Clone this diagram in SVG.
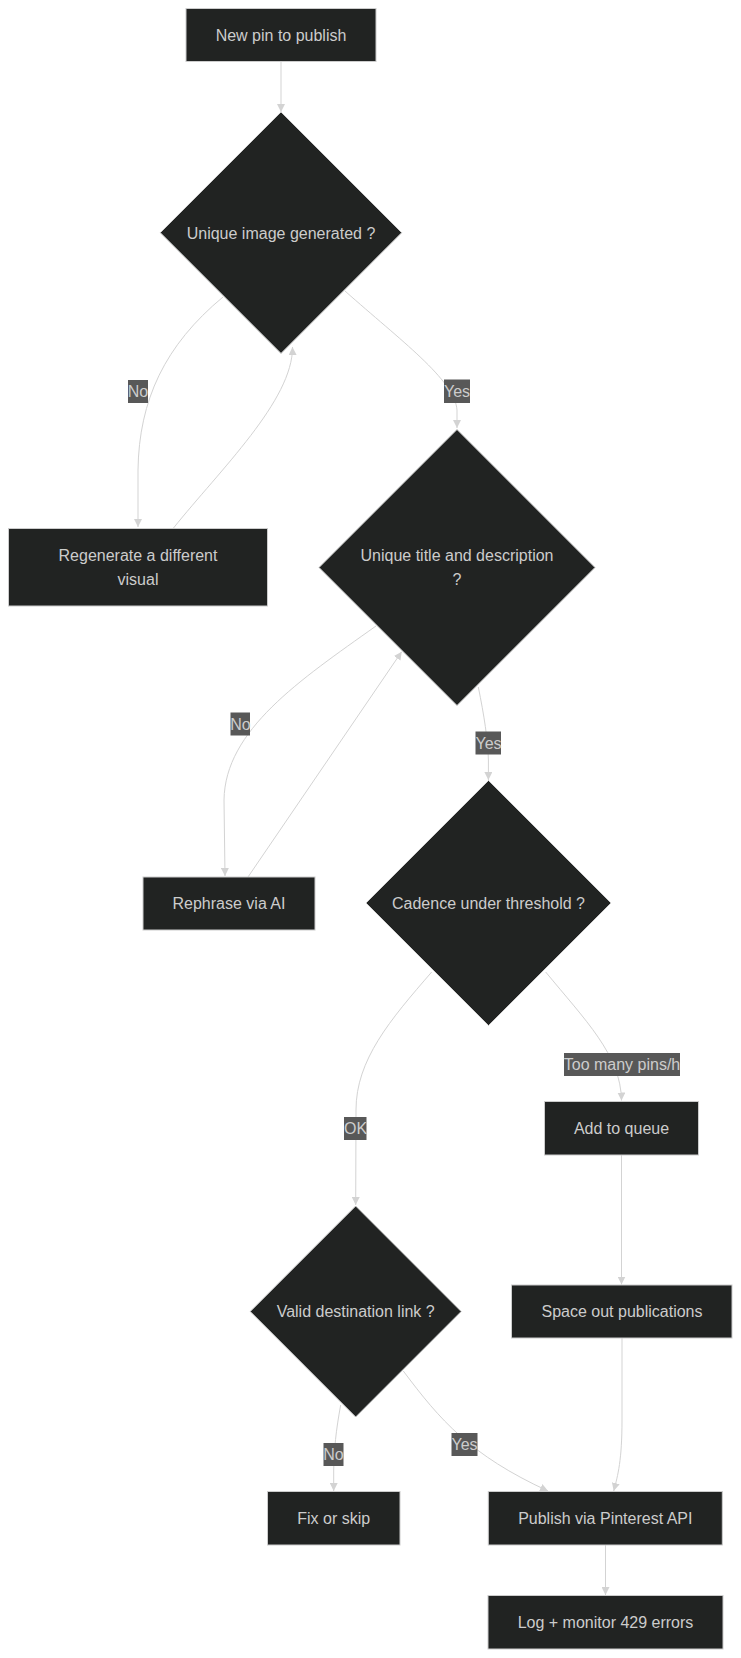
<svg xmlns="http://www.w3.org/2000/svg" width="741" height="1658" viewBox="0 0 741 1658">
<defs>
<style>
.node rect,.node polygon{fill:#212322;stroke:#cccccc;stroke-width:1}
.node text{font-family:"Liberation Sans",Arial,sans-serif;font-size:16px;fill:#cccccc;text-anchor:middle}
.edge{fill:none;stroke:#d3d3d3;stroke-width:1;marker-end:url(#arrow)}
.lbl rect{fill:#585858;stroke:none}
.lbl text{font-family:"Liberation Sans",Arial,sans-serif;font-size:16px;fill:#cccccc;text-anchor:middle}
</style>
<marker id="arrow" viewBox="0 0 10 10" refX="10" refY="5" markerUnits="userSpaceOnUse" markerWidth="8" markerHeight="8" orient="auto">
<path d="M0,0 L10,5 L0,10 z" fill="#d3d3d3"/>
</marker>
</defs>
<rect width="741" height="1658" fill="#ffffff"/>
<g id="connectors">
<path class="edge" d="M281,62 L281,112"/>
<path class="edge" d="M223,297 C165,345 139,400 138,470 L138,527"/>
<path class="edge" d="M173.5,528 C220,470 293,400 292.5,347"/>
<path class="edge" d="M345,291 C400,340 455,380 457,410 L457,428"/>
<path class="edge" d="M376,626 C300,680 225,730 224,800 L225,876"/>
<path class="edge" d="M248,877 L401.7,651.7"/>
<path class="edge" d="M478.3,687 C484,715 488,740 488.4,760 L488.4,780"/>
<path class="edge" d="M431.7,972 C390,1020 356,1060 356,1110 L355.7,1205"/>
<path class="edge" d="M545.7,972 C585,1020 621,1055 621.5,1100.5"/>
<path class="edge" d="M621.5,1155 L621.5,1284.5"/>
<path class="edge" d="M622,1338 L622,1420 C622,1460 618,1475 613.7,1491"/>
<path class="edge" d="M340.7,1405 C336,1430 334,1450 333.7,1470 L333.7,1491"/>
<path class="edge" d="M403.3,1371 C440,1420 470,1455 548,1491"/>
<path class="edge" d="M605.5,1545 L605.5,1595"/>
</g>
<g id="edge-labels">
<g class="lbl"><rect x="128" y="380" width="20" height="23"/><text x="138" y="397">No</text></g>
<g class="lbl"><rect x="444" y="379.5" width="26" height="23.5"/><text x="457" y="397">Yes</text></g>
<g class="lbl"><rect x="230.5" y="712.5" width="19.5" height="23"/><text x="240.5" y="729.5">No</text></g>
<g class="lbl"><rect x="475.5" y="731.5" width="25.5" height="23"/><text x="488.5" y="748.5">Yes</text></g>
<g class="lbl"><rect x="344" y="1117" width="22.5" height="23"/><text x="355.5" y="1134">OK</text></g>
<g class="lbl"><rect x="564" y="1053" width="116" height="23"/><text x="622" y="1070">Too many pins/h</text></g>
<g class="lbl"><rect x="323.5" y="1443" width="20" height="23"/><text x="333.5" y="1460">No</text></g>
<g class="lbl"><rect x="451.5" y="1433" width="26" height="23"/><text x="464.5" y="1450">Yes</text></g>
</g>
<g id="n-start" class="node"><rect x="186" y="8.5" width="190" height="53"/><text x="281" y="40.5">New pin to publish</text></g>
<g id="n-image" class="node"><polygon points="281,112 401.7,232.7 281,353.4 160.3,232.7"/><text x="281" y="238.5">Unique image generated ?</text></g>
<g id="n-regen" class="node"><rect x="8.5" y="528.5" width="259" height="77.5"/><text x="138" y="560.5">Regenerate a different</text><text x="138" y="584.5">visual</text></g>
<g id="n-title" class="node"><polygon points="457,429.5 595,567.5 457,705.5 319,567.5"/><text x="457" y="560.5">Unique title and description</text><text x="457" y="584.5">?</text></g>
<g id="n-rephrase" class="node"><rect x="143" y="877" width="172" height="53"/><text x="229" y="909">Rephrase via AI</text></g>
<g id="n-cadence" class="node"><polygon points="488.5,780.5 611,903 488.5,1025.5 366,903"/><text x="488.5" y="908.5">Cadence under threshold ?</text></g>
<g id="n-queue" class="node"><rect x="544.5" y="1101.5" width="154" height="53.5"/><text x="621.5" y="1134">Add to queue</text></g>
<g id="n-space" class="node"><rect x="511.5" y="1285" width="220.5" height="53"/><text x="622" y="1317">Space out publications</text></g>
<g id="n-link" class="node"><polygon points="355.7,1206 461.2,1311.5 355.7,1417 250.2,1311.5"/><text x="355.7" y="1317">Valid destination link ?</text></g>
<g id="n-fix" class="node"><rect x="267.5" y="1491.5" width="132.5" height="53.5"/><text x="333.7" y="1524">Fix or skip</text></g>
<g id="n-publish" class="node"><rect x="488.3" y="1491.5" width="234" height="53.5"/><text x="605.3" y="1524">Publish via Pinterest API</text></g>
<g id="n-log" class="node"><rect x="488" y="1595.5" width="235" height="53.5"/><text x="605.5" y="1628">Log + monitor 429 errors</text></g>
</svg>
